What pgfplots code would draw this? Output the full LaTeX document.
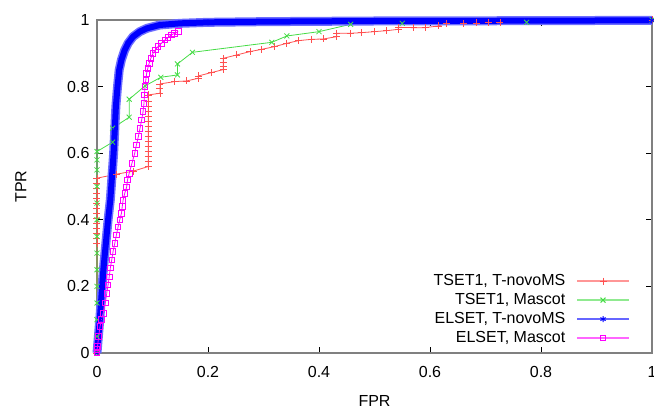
\documentclass[border=0pt]{standalone}
\usepackage{pgfplots}
\pgfplotsset{compat=1.18}
\usepackage{fontspec}
\setmainfont{Liberation Sans}

\definecolor{cRed}{RGB}{255,80,80}
\definecolor{cGreen}{RGB}{70,220,70}
\definecolor{cBlue}{RGB}{0,0,255}
\definecolor{cBlueEdge}{RGB}{110,110,255}
\definecolor{cMag}{RGB}{255,0,255}

\newcommand{\lblfont}{\fontsize{16}{19}\selectfont}

\begin{document}
\begin{tikzpicture}
\useasboundingbox (-97pt,-56pt) rectangle (557pt,353pt);
\begin{axis}[
    scale only axis,
    width=555pt, height=333pt,
    xmin=0, xmax=1, ymin=0, ymax=1,
    xtick={0,0.2,0.4,0.6,0.8,1},
    ytick={0,0.2,0.4,0.6,0.8,1},
    xticklabels={0,0.2,0.4,0.6,0.8,1},
    yticklabels={0,0.2,0.4,0.6,0.8,1},
    tick align=inside,
    major tick length=6pt,
    tick style={black, line width=0.8pt},
    axis line style={draw=gray, line width=1.3pt},
    tick label style={font=\lblfont},
    label style={font=\lblfont},
    xticklabel style={anchor=center, yshift=-19pt},
    yticklabel style={anchor=east, xshift=-4pt},
    xlabel={FPR}, ylabel={TPR},
    xlabel style={at={(axis description cs:0.5,-0.144)}, anchor=center},
    ylabel style={at={(axis description cs:-0.137,0.5)}, anchor=center},
    clip=false,
    legend plot pos=right,
    legend cell align=right,
    legend style={draw=none, fill=none, font=\lblfont, inner sep=0pt,
        at={(rel axis cs:1,0)}, anchor=south east,
        xshift=-22pt, yshift=6.7pt, row sep=3pt, column sep=10pt,
        nodes={inner sep=1pt, text height=11pt, text depth=3pt}},
    legend image code/.code={
        \draw[line width=1.5pt, draw opacity=0.6] (0pt,0pt) -- (52pt,0pt);
        \draw[only marks, line width=1pt] plot coordinates {(26pt,0pt)};
    },
]

% TSET1, T-novoMS
\addplot[color=cRed, line width=0.8pt, mark=+, mark size=3.5pt] coordinates {
(0,0) (0,0.33) (0,0.345) (0,0.36) (0,0.375) (0,0.39) (0,0.405) (0,0.42) (0,0.435)
(0,0.45) (0,0.465) (0,0.48) (0,0.495) (0,0.51) (0,0.525)
(0.035,0.537) (0.065,0.546) (0.0925,0.56) (0.0925,0.575) (0.0925,0.59) (0.0925,0.605)
(0.0925,0.62) (0.0925,0.635) (0.0925,0.65) (0.0925,0.665) (0.0925,0.68) (0.0925,0.695)
(0.0925,0.71) (0.0925,0.725) (0.0925,0.74) (0.0925,0.755) (0.0925,0.775)
(0.1135,0.78) (0.1135,0.795) (0.1135,0.808) (0.14,0.815) (0.1615,0.817)
(0.1825,0.825) (0.1825,0.832) (0.206,0.842) (0.2275,0.851) (0.2275,0.862)
(0.2275,0.874) (0.2275,0.885) (0.2515,0.895) (0.2755,0.905) (0.297,0.912)
(0.32,0.92) (0.342,0.93) (0.363,0.938) (0.387,0.942) (0.408,0.943) (0.432,0.95)
(0.432,0.96) (0.456,0.96) (0.477,0.962) (0.50,0.965) (0.522,0.968) (0.543,0.972)
(0.543,0.978) (0.57,0.977) (0.591,0.977) (0.615,0.982) (0.63,0.99) (0.66,0.99)
(0.684,0.991) (0.705,0.992) (0.726,0.993) (1,1)
};
\addlegendentry{TSET1, T-novoMS}

% TSET1, Mascot
\addplot[color=cGreen, line width=0.8pt, mark=x, mark size=3.5pt] coordinates {
(0,0) (0,0.05) (0,0.1) (0,0.15) (0,0.2) (0,0.25) (0,0.3) (0,0.35) (0,0.4) (0,0.45)
(0,0.5) (0,0.55) (0,0.58) (0,0.605) (0.028,0.633) (0.028,0.675) (0.058,0.708)
(0.058,0.762) (0.0865,0.802) (0.115,0.828) (0.145,0.835) (0.145,0.868)
(0.172,0.903) (0.315,0.933) (0.342,0.952) (0.40,0.965) (0.457,0.987)
(0.55,0.99) (0.774,0.993) (1,1)
};
\addlegendentry{TSET1, Mascot}

% ELSET, T-novoMS: dense marks drawn as a band
\addplot[color=cBlueEdge, line width=9pt, line join=round, forget plot] coordinates {
(0,0) (0.002,0.04) (0.005,0.1) (0.008,0.17) (0.0115,0.25) (0.016,0.33) (0.020,0.40)
(0.024,0.46) (0.027,0.53) (0.030,0.6) (0.032,0.67) (0.034,0.74) (0.037,0.8)
(0.040,0.85) (0.044,0.88) (0.050,0.91) (0.056,0.93) (0.065,0.95) (0.077,0.965)
(0.09,0.975) (0.113,0.985) (0.15,0.99) (0.2,0.993) (0.3,0.995) (0.5,0.997)
(0.8,0.998) (1,0.999)
};
\addplot[color=cBlue, line width=6pt, line join=round, forget plot] coordinates {
(0,0) (0.002,0.04) (0.005,0.1) (0.008,0.17) (0.0115,0.25) (0.016,0.33) (0.020,0.40)
(0.024,0.46) (0.027,0.53) (0.030,0.6) (0.032,0.67) (0.034,0.74) (0.037,0.8)
(0.040,0.85) (0.044,0.88) (0.050,0.91) (0.056,0.93) (0.065,0.95) (0.077,0.965)
(0.09,0.975) (0.113,0.985) (0.15,0.99) (0.2,0.993) (0.3,0.995) (0.5,0.997)
(0.8,0.998) (1,0.999)
};
\addplot[color=cBlue, line width=0.8pt, mark=asterisk, mark size=3pt] coordinates {
(0,0) (0.005,0.1) (0.0115,0.25) (0.020,0.40) (0.027,0.53) (0.032,0.67) (0.037,0.8)
(0.044,0.88) (0.056,0.93) (0.077,0.965) (0.113,0.985) (0.2,0.993) (0.5,0.997) (1,0.999)
};
\addlegendentry{ELSET, T-novoMS}

% ELSET, Mascot
\addplot[color=cMag, line width=0.8pt, mark=square, mark size=2.8pt] coordinates {
(0,0) (0,0.01) (0.001,0.02) (0.003,0.05) (0.0054,0.079) (0.008,0.1) (0.011,0.119)
(0.015,0.15) (0.0175,0.179) (0.02,0.205) (0.022,0.229) (0.024,0.255) (0.0265,0.279)
(0.029,0.305) (0.032,0.329) (0.035,0.355) (0.038,0.379) (0.041,0.4) (0.044,0.419)
(0.0455,0.44) (0.047,0.459) (0.050,0.48) (0.0535,0.499) (0.055,0.52) (0.058,0.54)
(0.063,0.57) (0.068,0.60) (0.071,0.625) (0.0745,0.65) (0.0775,0.675) (0.0805,0.70)
(0.083,0.725) (0.0847,0.75) (0.0855,0.775) (0.0865,0.80) (0.088,0.82) (0.0895,0.84)
(0.0915,0.855) (0.094,0.87) (0.097,0.885) (0.101,0.90) (0.105,0.91) (0.11,0.92)
(0.116,0.93) (0.1225,0.94) (0.128,0.948) (0.134,0.955) (0.14,0.96) (0.1465,0.965)
};
\addlegendentry{ELSET, Mascot}

\end{axis}
\end{tikzpicture}
\end{document}
